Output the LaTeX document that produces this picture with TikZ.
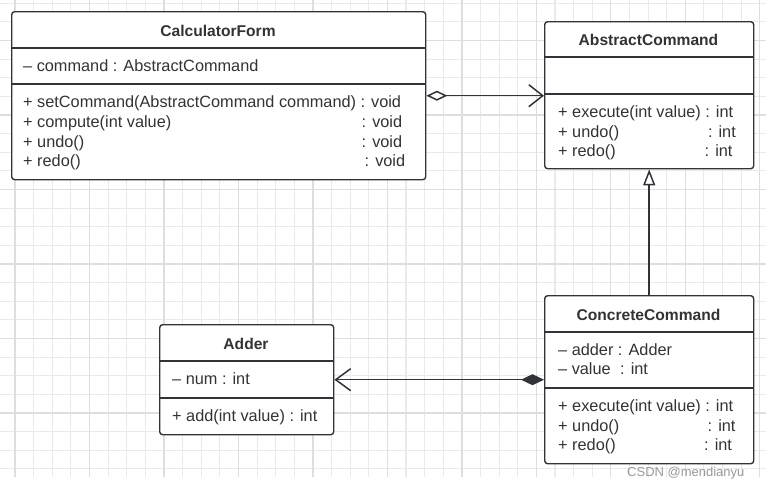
\documentclass[tikz,border=0pt]{standalone}
\usepackage{fontspec}
\setmainfont{Liberation Sans}
\usetikzlibrary{arrows.meta}
\definecolor{ink}{HTML}{30343A}
\definecolor{txt}{HTML}{333333}
\definecolor{gridminor}{HTML}{EAEAEA}
\definecolor{gridmajor}{HTML}{DEDEDE}
\definecolor{wmark}{HTML}{9A9A9A}
\begin{document}
\begin{tikzpicture}[x=1pt,y=-1pt,
  umlbox/.style={draw=ink, line width=1.4pt, fill=white, rounded corners=3pt, inner sep=0pt, anchor=north west},
  sepline/.style={draw=ink, line width=1.3pt},
  member/.style={anchor=west, inner sep=0pt, text=txt, font=\fontsize{16.3}{19}\selectfont, text height=12pt, text depth=3.5pt},
  classname/.style={anchor=center, inner sep=0pt, text=txt, font=\bfseries\fontsize{15.6}{19}\selectfont},
  conn/.style={draw=ink, line width=1.5pt},
  minorgrid/.style={draw=gridminor, line width=1.1pt},
  majorgrid/.style={draw=gridmajor, line width=1.3pt},
]
\useasboundingbox (0,0) rectangle (766,490);
\fill[white] (0,0) rectangle (766,490);
% grid
\begin{scope}
  \clip (0,0) rectangle (766,477);
  \foreach \i in {-1,...,41} { \draw[minorgrid] ({15+18.62*\i},0) -- ({15+18.62*\i},477); }
  \foreach \j in {0,...,26} { \draw[minorgrid] (0,{3.3+18.62*\j}) -- (766,{3.3+18.62*\j}); }
  \foreach \i in {0,...,10} { \draw[majorgrid] ({15+74.48*\i},0) -- ({15+74.48*\i},477); }
  \foreach \j in {0,...,6} { \draw[majorgrid] (0,{40.5+74.48*\j}) -- (766,{40.5+74.48*\j}); }
\end{scope}

% CalculatorForm
\node[umlbox, minimum width=414pt, minimum height=168pt] (cf) at (11,11) {};
\draw[sepline] (cf.west |- 0,48) -- (cf.east |- 0,48);
\draw[sepline] (cf.west |- 0,84) -- (cf.east |- 0,84);
\node[classname] (cft) at (218,31) {CalculatorForm};
\node[member] (cfa1) at (23,67) {– command : AbstractCommand};
\node[member] (cfm1) at (23,103) {+ setCommand(AbstractCommand command) : void};
\node[member] (cfm2) at (23,123) {+ compute(int value)};
\node[member] (cfm2r) at (361.5,123) {: void};
\node[member] (cfm3) at (23,143) {+ undo()};
\node[member] (cfm3r) at (361.5,143) {: void};
\node[member] (cfm4) at (23,162) {+ redo()};
\node[member] (cfm4r) at (364.5,162) {: void};

% AbstractCommand
\node[umlbox, minimum width=209pt, minimum height=147pt] (ac) at (544,21) {};
\draw[sepline] (ac.west |- 0,57) -- (ac.east |- 0,57);
\draw[sepline] (ac.west |- 0,94) -- (ac.east |- 0,94);
\node[classname] (act) at (648.5,39.5) {AbstractCommand};
\node[member] (acm1) at (558,113) {+ execute(int value) : int};
\node[member] (acm2) at (558,133) {+ undo()};
\node[member] (acm2r) at (707.8,133) {: int};
\node[member] (acm3) at (558,152) {+ redo()};
\node[member] (acm3r) at (704.5,152) {: int};

% ConcreteCommand
\node[umlbox, minimum width=209pt, minimum height=168pt] (cc) at (544,295) {};
\draw[sepline] (cc.west |- 0,332) -- (cc.east |- 0,332);
\draw[sepline] (cc.west |- 0,388) -- (cc.east |- 0,388);
\node[classname] (cct) at (648.5,314.5) {ConcreteCommand};
\node[member] (cca1) at (558,351) {– adder : Adder};
\node[member] (cca2) at (558,370) {– value};
\node[member] (cca2r) at (620,370) {: int};
\node[member] (ccm1) at (558,407) {+ execute(int value) : int};
\node[member] (ccm2) at (558,427) {+ undo()};
\node[member] (ccm2r) at (707.5,427) {: int};
\node[member] (ccm3) at (558,446) {+ redo()};
\node[member] (ccm3r) at (704,446) {: int};

% Adder
\node[umlbox, minimum width=174pt, minimum height=110pt] (ad) at (159,324) {};
\draw[sepline] (ad.west |- 0,361) -- (ad.east |- 0,361);
\draw[sepline] (ad.west |- 0,398) -- (ad.east |- 0,398);
\node[classname] (adt) at (246,343.5) {Adder};
\node[member] (ada1) at (172,380) {– num : int};
\node[member] (adm1) at (172,417) {+ add(int value) : int};

% connectors
\draw[conn, {Diamond[open, length=21pt, width=10pt, fill=white]}-{Straight Barb[length=14pt, width=22pt]}] (cf.east) -- (cf.east -| ac.west);
\draw[conn, -{Triangle[open, length=16pt, width=12pt, fill=white]}] (cc.north) -- (cc.north |- ac.south);
\draw[conn, {Diamond[length=23pt, width=11pt]}-{Straight Barb[length=15pt, width=22pt]}] (cc.west) -- (cc.west -| ad.east);

% watermark
\node[anchor=base west, inner sep=0pt, text=wmark, font=\fontsize{13}{15}\selectfont] (wm) at (627,476.5) {CSDN @mendianyu};
\end{tikzpicture}
\end{document}
